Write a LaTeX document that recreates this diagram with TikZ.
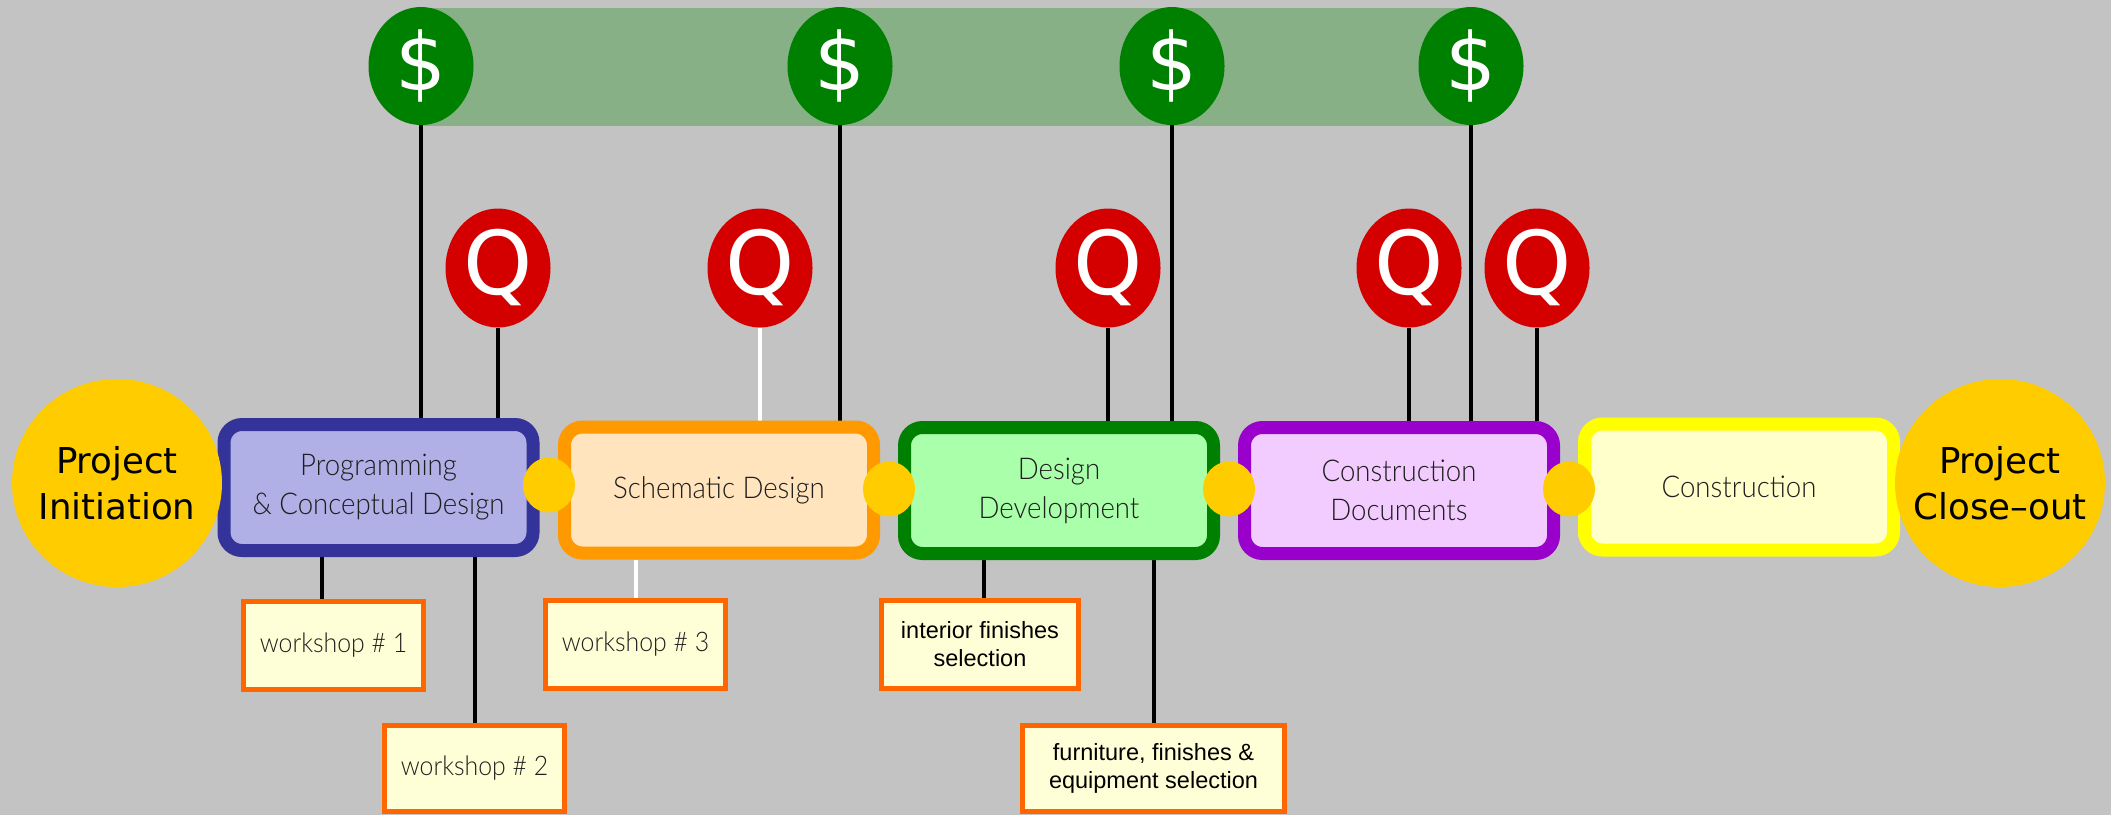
\documentclass[tikz,border=0pt]{standalone}
\usepackage{fontspec}
\usetikzlibrary{shapes.geometric}
\newfontfamily\dvsfont{DejaVu Sans}
\newfontfamily\narrowfont[FakeStretch=0.92]{Lato Light}
\newfontfamily\arialfont{Liberation Sans}
\definecolor{bgc}{HTML}{C3C3C3}
\definecolor{bandc}{HTML}{87B087}
\definecolor{yel}{HTML}{FFCC00}
\definecolor{progB}{HTML}{333399}
\definecolor{progF}{HTML}{B0B0E6}
\definecolor{schB}{HTML}{FF9900}
\definecolor{schF}{HTML}{FFE4BE}
\definecolor{ddB}{HTML}{008000}
\definecolor{ddF}{HTML}{AAFFAA}
\definecolor{cdB}{HTML}{9900CC}
\definecolor{cdF}{HTML}{F2CCFF}
\definecolor{conB}{HTML}{FFFF00}
\definecolor{conF}{HTML}{FFFFCC}
\definecolor{wsB}{HTML}{FF6600}
\definecolor{wsF}{HTML}{FFFFD7}
\definecolor{dollarc}{HTML}{008000}
\definecolor{qc}{HTML}{D40000}
\definecolor{txt}{HTML}{1E1E1E}
\pgfdeclarelayer{back}
\pgfsetlayers{back,main}
\begin{document}
\begin{tikzpicture}[x=1pt,y=-1pt,
  phase/.style={rectangle, rounded corners=18pt, line width=13pt,
    minimum width=309pt, minimum height=126pt, inner sep=0pt, align=center,
    text=txt, font=\narrowfont\fontsize{30}{39}\selectfont},
  endpt/.style={ellipse, fill=yel, minimum width=210pt, minimum height=208pt, inner sep=0pt},
  endtext/.style={align=center, text=black, inner sep=0pt,
    font=\dvsfont\fontsize{35.6}{46}\selectfont},
  dot/.style={ellipse, fill=yel, minimum width=52pt, minimum height=55pt, inner sep=0pt},
  qnode/.style={ellipse, fill=qc, minimum width=105pt, minimum height=119pt, inner sep=0pt,
    text=white, font=\dvsfont\fontsize{88}{88}\selectfont},
  dnode/.style={ellipse, fill=dollarc, minimum width=105pt, minimum height=118pt, inner sep=0pt,
    text=white, font=\dvsfont\fontsize{80}{80}\selectfont},
  ws/.style={rectangle, draw=wsB, fill=wsF, line width=5pt, inner sep=0pt, align=center,
    minimum width=180pt, minimum height=88pt, text=txt,
    font=\narrowfont\fontsize{27}{32}\selectfont},
  wsa/.style={ws, text=black, font=\arialfont\fontsize{23.5}{27.7}\selectfont},
  conn/.style={line width=4pt, draw=black}
]
\useasboundingbox (0,0) rectangle (2111,815);
\begin{pgfonlayer}{back}
  \fill[bgc] (0,0) rectangle (2111,815);
  \fill[bandc] (421,8) rectangle (1471,126);
\end{pgfonlayer}

% phases
\node[phase, draw=progB, fill=progF] (prog) at (378.5,487.5) {Programming\\\& Conceptual Design};
\node[phase, draw=schB, fill=schF] (sch) at (719,490) {Schematic Design};
\node[phase, draw=ddB, fill=ddF] (dd) at (1059,490.5) {Design\\Development};
\node[phase, draw=cdB, fill=cdF] (cd) at (1399,490.5) {Construction\\Documents};
\node[phase, draw=conB, fill=conF] (con) at (1739,487) {Construction};

% end points
\node[endpt] (init) at (117,483) {};
\node[endtext] (initT) at (init.center) {Project\\Initiation};
\node[endpt] (close) at (2000,483) {};
\node[endtext] (closeT) at (close.center) {Project\\Close–out};

% joints
\node[dot] (j1) at (549,485) {};
\node[dot] (j2) at (889,489) {};
\node[dot] (j3) at (1229,489) {};
\node[dot] (j4) at (1569,489) {};

% cost milestones
\node[dnode] (d1) at (421,66) {\$};
\node[dnode] (d2) at (840,66) {\$};
\node[dnode] (d3) at (1172,66) {\$};
\node[dnode] (d4) at (1471,66) {\$};

% quality milestones
\node[qnode] (q1) at (498,268) {Q};
\node[qnode] (q2) at (760,268) {Q};
\node[qnode] (q3) at (1108,268) {Q};
\node[qnode] (q4) at (1409,268) {Q};
\node[qnode] (q5) at (1537,268) {Q};

% workshops
\node[ws] (ws1) at (333.5,645.5) {workshop \# 1};
\node[ws, minimum height=86pt] (ws2) at (474.5,768.5) {workshop \# 2};
\node[ws] (ws3) at (635.5,644) {workshop \# 3};
\node[wsa, minimum width=197pt] (ifs) at (980,644) {interior finishes\\selection};
\node[wsa, minimum width=262pt, minimum height=86pt] (ffe) at (1153.5,768.5) {furniture, finishes \&\\equipment selection};

\begin{pgfonlayer}{back}
  \draw[conn] (d1.south) -- (d1.south |- prog.north);
  \draw[conn] (d2.south) -- (d2.south |- sch.north);
  \draw[conn] (d3.south) -- (d3.south |- dd.north);
  \draw[conn] (d4.south) -- (d4.south |- cd.north);
  \draw[conn] (q1.south) -- (q1.south |- prog.north);
  \draw[conn, draw=white] (q2.south) -- (q2.south |- sch.north);
  \draw[conn] (q3.south) -- (q3.south |- dd.north);
  \draw[conn] (q4.south) -- (q4.south |- cd.north);
  \draw[conn] (q5.south) -- (q5.south |- cd.north);
  \draw[conn] ([xshift=-12pt]ws1.north) -- ([xshift=-12pt]ws1.north |- prog.south);
  \draw[conn] (ws2.north) -- (ws2.north |- prog.south);
  \draw[conn, draw=white] (ws3.north) -- (ws3.north |- sch.south);
  \draw[conn] ([xshift=4pt]ifs.north) -- ([xshift=4pt]ifs.north |- dd.south);
  \draw[conn] (ffe.north) -- (ffe.north |- dd.south);
\end{pgfonlayer}
\end{tikzpicture}
\end{document}
